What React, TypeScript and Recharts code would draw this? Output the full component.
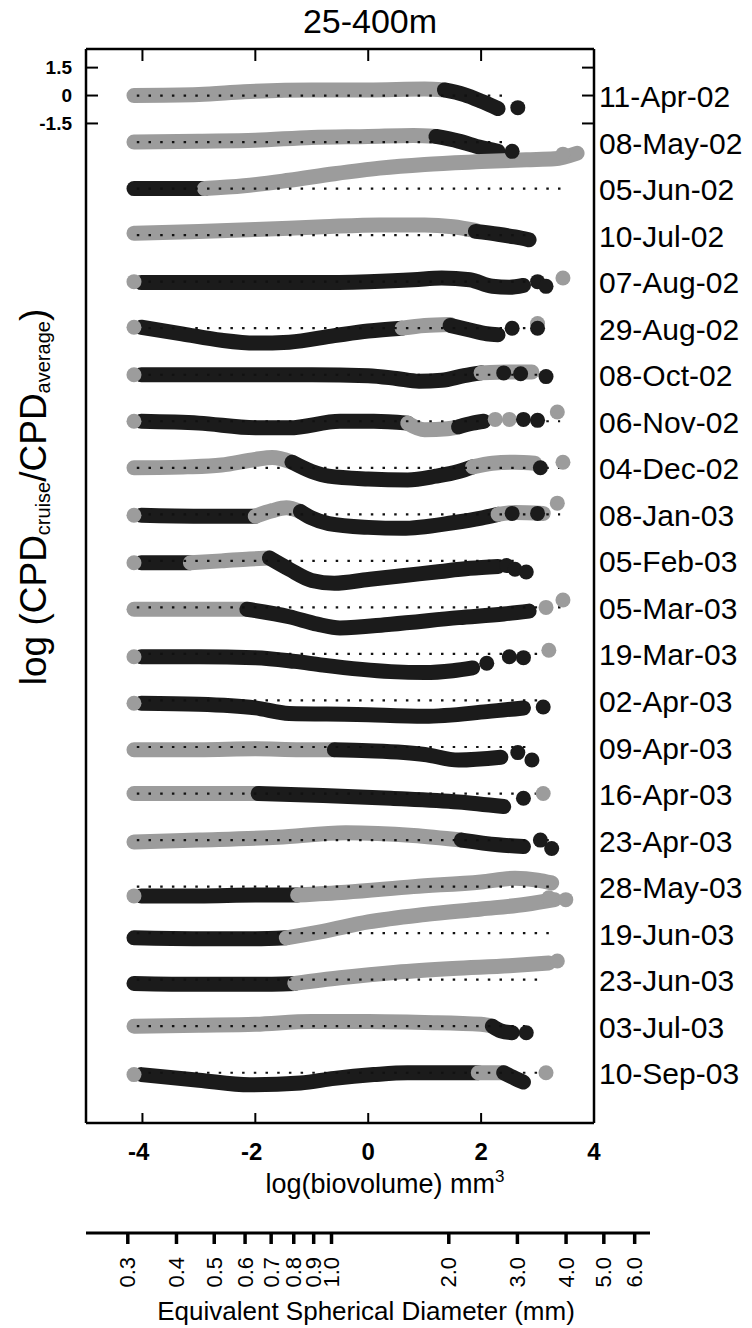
import React from 'react';
import { ComposedChart, Line, Scatter, XAxis, YAxis } from 'recharts';

type P = [number, number];
type Seg = { c: 'g' | 'k'; p: P[] };
type Dot = [number, number, 'g' | 'k'];
type Series = { segs: Seg[]; dots: Dot[]; end: number };

const dates = [
  '11-Apr-02', '08-May-02', '05-Jun-02', '10-Jul-02', '07-Aug-02', '29-Aug-02',
  '08-Oct-02', '06-Nov-02', '04-Dec-02', '08-Jan-03', '05-Feb-03', '05-Mar-03',
  '19-Mar-03', '02-Apr-03', '09-Apr-03', '16-Apr-03', '23-Apr-03', '28-May-03',
  '19-Jun-03', '23-Jun-03', '03-Jul-03', '10-Sep-03',
];

const s11Apr02: Series = {
  segs: [
    { c: 'g', p: [[-4.15, 0], [-3, 0.05], [-2.2, 0.2], [-1, 0.3], [0, 0.3], [1, 0.35], [1.35, 0.3]] },
    { c: 'k', p: [[1.35, 0.3], [1.7, 0.05], [2.0, -0.3], [2.3, -0.7]] },
  ],
  dots: [[2.65, -0.65, 'k']],
  end: 2.5,
};
const s08May02: Series = {
  segs: [
    { c: 'g', p: [[-4.15, 0], [-3, 0.05], [-2, 0.1], [-1, 0.25], [0, 0.3], [0.8, 0.35], [1.2, 0.3]] },
    { c: 'k', p: [[1.2, 0.3], [1.6, 0.05], [2.0, -0.3], [2.3, -0.5]] },
  ],
  dots: [[2.55, -0.5, 'k']],
  end: 2.5,
};
const s05Jun02: Series = {
  segs: [
    { c: 'k', p: [[-4.15, 0], [-3.5, 0], [-2.9, 0]] },
    { c: 'g', p: [[-2.9, 0], [-2.2, 0.15], [-1.4, 0.45], [-0.6, 0.8], [0.2, 1.1], [1, 1.3], [2, 1.45], [2.8, 1.55], [3.3, 1.6], [3.7, 1.9]] },
  ],
  dots: [[3.45, 1.85, 'g']],
  end: 3.55,
};
const s10Jul02: Series = {
  segs: [
    { c: 'g', p: [[-4.15, 0.1], [-3, 0.2], [-2, 0.3], [-0.8, 0.45], [0.2, 0.55], [1, 0.55], [1.5, 0.45], [1.9, 0.25]] },
    { c: 'k', p: [[1.9, 0.2], [2.3, 0.05], [2.6, -0.1], [2.85, -0.25]] },
  ],
  dots: [],
  end: 2.85,
};
const s07Aug02: Series = {
  segs: [
    { c: 'k', p: [[-4.02, -0.05], [-3, -0.05], [-2, -0.05], [-1, -0.05], [0, 0], [0.8, 0.1], [1.3, 0.2], [1.8, 0.1], [2.2, -0.25], [2.5, -0.3], [2.75, -0.2]] },
  ],
  dots: [[-4.15, 0, 'g'], [3.0, 0, 'k'], [3.15, -0.25, 'k'], [3.45, 0.2, 'g']],
  end: 3.4,
};
const s29Aug02: Series = {
  segs: [
    { c: 'k', p: [[-4.02, 0.05], [-3.3, -0.3], [-2.6, -0.65], [-2.0, -0.8], [-1.4, -0.75], [-0.6, -0.4], [0, -0.15], [0.6, 0]] },
    { c: 'g', p: [[0.6, 0], [1, 0.15], [1.45, 0.2]] },
    { c: 'k', p: [[1.45, 0.15], [1.8, -0.1], [2.1, -0.3], [2.3, -0.35]] },
  ],
  dots: [[-4.15, 0.05, 'g'], [2.55, 0, 'k'], [3.0, 0.25, 'g'], [3.0, 0, 'k']],
  end: 3.0,
};
const s08Oct02: Series = {
  segs: [
    { c: 'k', p: [[-4.02, 0], [-3, 0], [-2, 0], [-1, 0], [0, -0.05], [0.5, -0.2], [0.9, -0.35], [1.3, -0.3], [1.7, -0.05], [2.0, 0.1]] },
    { c: 'g', p: [[2.0, 0.1], [2.5, 0.15], [2.9, 0.15]] },
  ],
  dots: [[-4.15, 0, 'g'], [2.4, 0.1, 'k'], [2.7, 0.05, 'k'], [3.15, -0.1, 'k']],
  end: 3.2,
};
const s06Nov02: Series = {
  segs: [
    { c: 'k', p: [[-4.02, 0], [-3, -0.1], [-2, -0.35], [-1.4, -0.35], [-0.5, 0], [0.1, 0], [0.7, -0.1]] },
    { c: 'g', p: [[0.7, -0.1], [1.0, -0.45], [1.4, -0.4], [1.6, -0.3]] },
    { c: 'k', p: [[1.6, -0.3], [1.85, -0.1], [2.05, 0]] },
  ],
  dots: [[-4.15, 0, 'g'], [2.25, 0.1, 'g'], [2.5, 0.1, 'g'], [2.75, 0.1, 'k'], [3.0, 0.05, 'k'], [3.35, 0.5, 'g']],
  end: 3.4,
};
const s04Dec02: Series = {
  segs: [
    { c: 'g', p: [[-4.15, 0], [-3.2, 0.05], [-2.6, 0.15], [-2, 0.45], [-1.7, 0.55], [-1.35, 0.3]] },
    { c: 'k', p: [[-1.35, 0.3], [-1.0, -0.2], [-0.7, -0.45], [0, -0.6], [0.7, -0.65], [1.2, -0.45], [1.6, -0.2], [1.85, 0.05]] },
    { c: 'g', p: [[1.85, 0.05], [2.2, 0.25], [2.6, 0.3], [2.95, 0.25]] },
  ],
  dots: [[3.05, 0, 'k'], [3.45, 0.3, 'g']],
  end: 3.4,
};
const s08Jan03: Series = {
  segs: [
    { c: 'k', p: [[-4.02, -0.05], [-3, -0.1], [-2.0, -0.1]] },
    { c: 'g', p: [[-2.0, -0.1], [-1.7, 0.2], [-1.45, 0.35], [-1.2, 0.15]] },
    { c: 'k', p: [[-1.2, 0.15], [-1.0, -0.2], [-0.7, -0.5], [0, -0.7], [0.6, -0.75], [1.5, -0.45], [2.0, -0.2], [2.3, 0]] },
    { c: 'g', p: [[2.3, 0], [2.6, 0.1], [3.1, 0.05]] },
  ],
  dots: [[-4.15, -0.05, 'g'], [2.55, 0.05, 'k'], [3.0, 0.05, 'k'], [3.35, 0.6, 'g']],
  end: 3.4,
};
const s05Feb03: Series = {
  segs: [
    { c: 'k', p: [[-4.02, -0.1], [-3.5, -0.1], [-3.15, -0.1]] },
    { c: 'g', p: [[-3.15, -0.1], [-2.6, 0], [-2.1, 0.1], [-1.75, 0.15]] },
    { c: 'k', p: [[-1.75, 0.15], [-1.4, -0.45], [-1.0, -1.05], [-0.6, -1.2], [0, -1.0], [0.6, -0.8], [1.2, -0.6], [1.8, -0.4], [2.3, -0.3]] },
  ],
  dots: [[-4.15, -0.1, 'g'], [2.45, -0.25, 'k'], [2.6, -0.45, 'k'], [2.8, -0.6, 'k']],
  end: 2.7,
};
const s05Mar03: Series = {
  segs: [
    { c: 'g', p: [[-4.15, -0.1], [-3, -0.1], [-2.15, -0.1]] },
    { c: 'k', p: [[-2.15, -0.1], [-1.4, -0.5], [-0.9, -0.9], [-0.5, -1.1], [0.4, -0.9], [1.6, -0.55], [2.4, -0.35], [2.85, -0.2]] },
  ],
  dots: [[3.15, 0, 'g'], [3.45, 0.4, 'g']],
  end: 3.5,
};
const s19Mar03: Series = {
  segs: [
    { c: 'k', p: [[-4.02, -0.15], [-3, -0.15], [-2, -0.2], [-1.3, -0.4], [-0.8, -0.6], [0.4, -0.95], [1, -1.0], [1.5, -0.9], [1.85, -0.75]] },
  ],
  dots: [[-4.15, -0.15, 'g'], [2.1, -0.5, 'k'], [2.5, -0.15, 'k'], [2.75, -0.2, 'k'], [3.2, 0.2, 'g']],
  end: 3.2,
};
const s02Apr03: Series = {
  segs: [
    { c: 'k', p: [[-4.02, -0.15], [-3, -0.2], [-2, -0.4], [-1.4, -0.7], [-0.2, -0.75], [1, -0.85], [2.1, -0.6], [2.75, -0.4]] },
  ],
  dots: [[-4.15, -0.15, 'g'], [3.1, -0.35, 'k']],
  end: 3.1,
};
const s09Apr03: Series = {
  segs: [
    { c: 'g', p: [[-4.15, -0.15], [-3, -0.15], [-2, -0.1], [-1.2, -0.15], [-0.6, -0.15]] },
    { c: 'k', p: [[-0.6, -0.15], [0, -0.2], [1, -0.4], [1.6, -0.7], [2.35, -0.55]] },
  ],
  dots: [[2.65, -0.3, 'k'], [2.9, -0.7, 'k']],
  end: 2.9,
};
const s16Apr03: Series = {
  segs: [
    { c: 'g', p: [[-4.15, 0], [-3, 0], [-1.95, 0]] },
    { c: 'k', p: [[-1.95, 0], [-0.8, -0.1], [0.4, -0.25], [1.6, -0.45], [2.4, -0.7]] },
  ],
  dots: [[2.75, -0.25, 'k'], [3.1, 0, 'g']],
  end: 3.1,
};
const s23Apr03: Series = {
  segs: [
    { c: 'g', p: [[-4.15, -0.1], [-3, 0], [-1.6, 0.15], [-0.4, 0.4], [0.8, 0.25], [1.65, 0]] },
    { c: 'k', p: [[1.65, 0], [2.3, -0.25], [2.75, -0.35]] },
  ],
  dots: [[3.05, 0, 'k'], [3.25, -0.45, 'k']],
  end: 3.2,
};
const s28May03: Series = {
  segs: [
    { c: 'k', p: [[-4.02, -0.5], [-3, -0.5], [-2, -0.45], [-1.25, -0.45]] },
    { c: 'g', p: [[-1.25, -0.45], [-0.4, -0.3], [0.8, 0], [2, 0.25], [2.6, 0.45], [3.0, 0.35], [3.25, 0.2]] },
  ],
  dots: [[-4.15, -0.5, 'g']],
  end: 3.2,
};
const s19Jun03: Series = {
  segs: [
    { c: 'k', p: [[-4.15, -0.25], [-3, -0.3], [-2, -0.3], [-1.45, -0.25]] },
    { c: 'g', p: [[-1.45, -0.25], [-0.8, 0.1], [0, 0.6], [1, 1.0], [2, 1.3], [2.8, 1.55], [3.3, 1.8]] },
  ],
  dots: [[3.2, 1.9, 'g'], [3.5, 1.8, 'g']],
  end: 3.3,
};
const s23Jun03: Series = {
  segs: [
    { c: 'k', p: [[-4.15, -0.2], [-3, -0.25], [-2, -0.25], [-1.3, -0.2]] },
    { c: 'g', p: [[-1.3, -0.2], [-0.5, 0.1], [0.5, 0.4], [1.5, 0.6], [2.5, 0.75], [3.2, 0.9]] },
  ],
  dots: [[3.35, 1.0, 'g']],
  end: 3.1,
};
const s03Jul03: Series = {
  segs: [
    { c: 'g', p: [[-4.15, 0], [-3, 0.05], [-2, 0.1], [-1, 0.25], [0, 0.25], [1, 0.2], [2, 0.1], [2.2, 0]] },
    { c: 'k', p: [[2.2, 0], [2.35, -0.25], [2.55, -0.35]] },
  ],
  dots: [[2.8, -0.35, 'k']],
  end: 2.8,
};
const s10Sep03: Series = {
  segs: [
    { c: 'k', p: [[-4.02, -0.1], [-3, -0.4], [-2.1, -0.65], [-1.2, -0.55], [-0.6, -0.3], [0.1, -0.1], [0.7, 0], [1.95, 0]] },
    { c: 'g', p: [[1.95, 0], [2.4, 0]] },
    { c: 'k', p: [[2.4, 0], [2.6, -0.3], [2.75, -0.5]] },
  ],
  dots: [[-4.15, -0.1, 'g'], [3.15, 0, 'g']],
  end: 3.1,
};

const series: Series[] = [
  s11Apr02, s08May02, s05Jun02, s10Jul02, s07Aug02, s29Aug02, s08Oct02, s06Nov02,
  s04Dec02, s08Jan03, s05Feb03, s05Mar03, s19Mar03, s02Apr03, s09Apr03, s16Apr03,
  s23Apr03, s28May03, s19Jun03, s23Jun03, s03Jul03, s10Sep03,
];

const xTicks = [-4, -2, 0, 2, 4];
const yTicks = [1.5, 0, -1.5];
const esdLabels = ['0.3', '0.4', '0.5', '0.6', '0.7', '0.8', '0.9', '1.0', '2.0', '3.0', '4.0', '5.0', '6.0'];

const STEP = 2.5;
const GRAY = '#9c9c9c';
const BLACK = '#1b1b1b';
const FONT = '"Liberation Sans", Arial, Helvetica, sans-serif';

const rightTicks = [1.5, -1.5, ...dates.map((_, k) => -STEP * k)];

const LeftTick = (props: any) => {
  const { x, y, payload } = props;
  return (
    <g>
      <line x1={x} x2={x + 12} y1={y} y2={y} stroke="#000" strokeWidth={2} />
      <text x={x - 14} y={y} textAnchor="end" dominantBaseline="central" fontFamily={FONT} fontWeight="bold" fontSize={19} fill="#000">
        {String(payload.value)}
      </text>
    </g>
  );
};

const RightTick = (props: any) => {
  const { x, y, payload } = props;
  const v = payload.value;
  const small = v === 1.5 || v === -1.5 || v === 0;
  const k = Math.round(-v / STEP);
  const isLabel = v <= 0 && Math.abs(v + STEP * k) < 1e-6;
  return (
    <g>
      {small && <line x1={x - 12} x2={x} y1={y} y2={y} stroke="#000" strokeWidth={2} />}
      {isLabel && (
        <text x={x + 5} y={y + 1} textAnchor="start" dominantBaseline="central" fontFamily={FONT} fontSize={30} fill="#000">
          {dates[k]}
        </text>
      )}
    </g>
  );
};

const BottomTick = (props: any) => {
  const { x, y, payload } = props;
  const v = payload.value;
  return (
    <g>
      {v < 4 && <line x1={x} x2={x} y1={y} y2={y - 10} stroke="#000" strokeWidth={2} />}
      <text x={v < 0 ? x + 7 : x} y={y + 37} textAnchor={v < 0 ? 'end' : 'middle'} fontFamily={FONT} fontWeight="bold" fontSize={24} fill="#000">
        {String(v)}
      </text>
    </g>
  );
};

const TopTick = (props: any) => {
  const { x, y, payload } = props;
  if (payload.value >= 4) return <g />;
  return <line x1={x} x2={x} y1={y} y2={y + 12} stroke="#000" strokeWidth={2} />;
};

const EsdTick = (props: any) => {
  const { x, y, index } = props;
  const ly = y + 24;
  return (
    <g>
      <line x1={x} x2={x} y1={y} y2={y + 11} stroke="#000" strokeWidth={3.5} />
      <text x={x} y={ly} transform={`rotate(-90 ${x} ${ly})`} textAnchor="end" dominantBaseline="central" fontFamily={FONT} fontSize={22} fill="#000">
        {esdLabels[index]}
      </text>
    </g>
  );
};

export default function App() {
  const els: React.ReactNode[] = [];
  const grayDots: { x: number; y: number }[] = [];
  const blackDots: { x: number; y: number }[] = [];
  series.forEach((s, k) => {
    const off = -STEP * k;
    s.segs.forEach((seg, j) => {
      els.push(
        <Line
          key={`s${k}-${j}`}
          data={seg.p.map(([x, d]) => ({ x, y: d + off }))}
          dataKey="y"
          xAxisId="b"
          yAxisId="L"
          type="monotone"
          stroke={seg.c === 'g' ? GRAY : BLACK}
          strokeWidth={15}
          strokeLinecap="round"
          strokeLinejoin="round"
          dot={false}
          activeDot={false}
          isAnimationActive={false}
        />
      );
    });
    s.dots.forEach(([x, d, c]) => (c === 'g' ? grayDots : blackDots).push({ x, y: d + off }));
  });
  series.forEach((s, k) => {
    els.push(
      <Line
        key={`b${k}`}
        data={[{ x: -4.1, y: -STEP * k }, { x: s.end, y: -STEP * k }]}
        dataKey="y"
        xAxisId="b"
        yAxisId="L"
        type="linear"
        stroke="#111"
        strokeWidth={2.2}
        strokeDasharray="2.5 9.2"
        dot={false}
        activeDot={false}
        isAnimationActive={false}
      />
    );
  });

  const esdTicks = esdLabels.map((d) => Math.log((Math.PI / 6) * Math.pow(parseFloat(d), 3)));
  const axisLine = { stroke: '#000', strokeWidth: 2.5 };

  return (
    <div style={{ position: 'absolute', left: 0, top: 0, width: 752, height: 1328, background: '#fff' }}>
      <div style={{ position: 'absolute', left: 0, top: 0 }}>
        <ComposedChart width={752} height={1180} margin={{ top: 48, right: 157, bottom: 27, left: 85 }}>
          <XAxis xAxisId="b" type="number" dataKey="x" domain={[-5, 4]} ticks={xTicks} interval={0} allowDataOverflow
            height={30} tickSize={0} tickMargin={0} tickLine={false} axisLine={axisLine} tick={<BottomTick />} />
          <XAxis xAxisId="t" orientation="top" type="number" dataKey="x" domain={[-5, 4]} ticks={xTicks} interval={0} allowDataOverflow
            height={1} tickSize={0} tickMargin={0} tickLine={false} axisLine={axisLine} tick={<TopTick />} />
          <YAxis yAxisId="L" type="number" dataKey="y" domain={[-55.2, 2.5]} ticks={yTicks} interval={0} allowDataOverflow
            width={1} tickSize={0} tickMargin={0} tickLine={false} axisLine={axisLine} tick={<LeftTick />} />
          <YAxis yAxisId="R" orientation="right" type="number" dataKey="y" domain={[-55.2, 2.5]} ticks={rightTicks} interval={0} allowDataOverflow
            width={1} tickSize={0} tickMargin={0} tickLine={false} axisLine={axisLine} tick={<RightTick />} />
          {els}
          <Scatter data={grayDots} xAxisId="b" yAxisId="L" fill={GRAY} isAnimationActive={false}
            shape={(p: any) => <circle cx={p.cx} cy={p.cy} r={7.5} fill={GRAY} />} />
          <Scatter data={blackDots} xAxisId="b" yAxisId="L" fill={BLACK} isAnimationActive={false}
            shape={(p: any) => <circle cx={p.cx} cy={p.cy} r={7.5} fill={BLACK} />} />
        </ComposedChart>
      </div>
      <div style={{ position: 'absolute', left: 0, top: 1203 }}>
        <ComposedChart width={752} height={100} margin={{ top: 0, right: 102, bottom: 10, left: 86 }}>
          <XAxis xAxisId="e" type="number" dataKey="x" domain={[-5, 5]} ticks={esdTicks} interval={0} allowDataOverflow
            height={60} tickSize={0} tickMargin={0} tickLine={false} axisLine={{ stroke: '#000', strokeWidth: 3 }} tick={<EsdTick />} />
          <YAxis yAxisId="e" hide type="number" domain={[0, 1]} />
        </ComposedChart>
      </div>
      <svg width={752} height={1328} style={{ position: 'absolute', left: 0, top: 0, pointerEvents: 'none' }}>
        <text x={370} y={33} textAnchor="middle" fontFamily={FONT} fontSize={34} fill="#000">25-400m</text>
        <text x={385} y={1193} textAnchor="middle" fontFamily={FONT} fontSize={27} fill="#000">
          log(biovolume) mm<tspan fontSize={17} dy={-11}>3</tspan>
        </text>
        <text x={366} y={1320} textAnchor="middle" fontFamily={FONT} fontSize={26} fill="#000">
          Equivalent Spherical Diameter (mm)
        </text>
        <text transform="translate(46 497) rotate(-90)" textAnchor="middle" fontFamily={FONT} fontSize={37} fill="#000">
          log (CPD<tspan fontSize={20} dy={4}>cruise</tspan><tspan dy={-4}>/CPD</tspan><tspan fontSize={20} dy={4}>average</tspan><tspan dy={-4}>)</tspan>
        </text>
      </svg>
    </div>
  );
}
